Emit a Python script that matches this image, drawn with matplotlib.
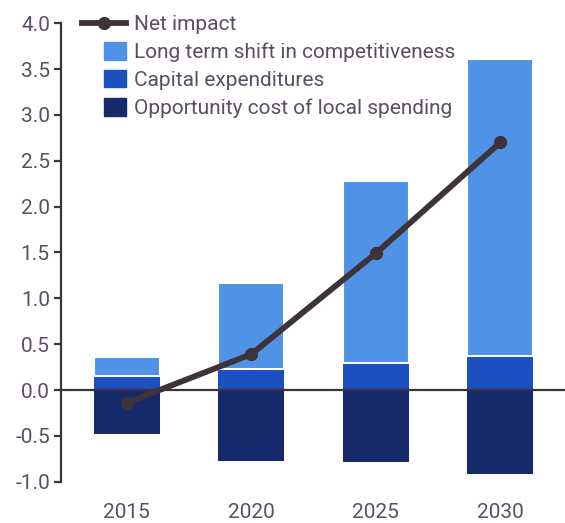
import matplotlib
matplotlib.use('Agg')
import matplotlib.pyplot as plt
from matplotlib.patches import Patch, Rectangle
from matplotlib.lines import Line2D
from matplotlib.legend_handler import HandlerPatch

# Contributions by year (segment heights)
years = ['2015', '2020', '2025', '2030']
capex = [0.15, 0.23, 0.29, 0.37]
shift = [0.21, 0.94, 1.99, 3.24]
opportunity = [-0.48, -0.77, -0.79, -0.92]
net_impact = [-0.14, 0.39, 1.49, 2.70]

y_ticks = [-1.0, -0.5, 0.0, 0.5, 1.0, 1.5, 2.0, 2.5, 3.0, 3.5, 4.0]

c_shift = '#4f92e6'
c_capex = '#1c4fc0'
c_opp = '#15296b'
c_line = '#3e3338'
c_text = '#5c4e62'

plt.rcParams['font.family'] = ['Roboto', 'DejaVu Sans']
plt.rcParams['font.size'] = 15

fig = plt.figure(figsize=(5.65, 5.23), dpi=100)
ax = fig.add_axes([61 / 565, 1 - 481.7 / 523, 1 - 61 / 565, 458.4 / 523])

x = list(range(len(years)))
w = 0.53
ax.bar(x, opportunity, width=w, color=c_opp, zorder=2)
ax.bar(x, capex, width=w, color=c_capex, zorder=2)
ax.bar(x, shift, width=w, bottom=capex, color=c_shift,
       edgecolor='white', linewidth=1.5, zorder=2)
ax.axhline(0, color=c_line, linewidth=1.6, zorder=3)
ax.plot(x, net_impact, color=c_line, linewidth=4.2, marker='o',
        markersize=8.5, zorder=4)

ax.set_xlim(-0.528, 3.52)
ax.set_ylim(-1.0, 4.0)
ax.set_yticks(y_ticks)
ax.set_yticklabels([f'{v:.1f}' for v in y_ticks])
ax.set_xticks(x)
ax.set_xticklabels(years)

for side in ['top', 'right', 'bottom']:
    ax.spines[side].set_visible(False)
ax.spines['left'].set_color(c_line)
ax.spines['left'].set_linewidth(1.6)
ax.tick_params(axis='y', colors=c_line, labelcolor=c_text, length=5,
               width=1.6, pad=3)
ax.tick_params(axis='x', length=0, labelcolor=c_text, pad=15)


def square_patch(legend, orig_handle, xdescent, ydescent, width, height, fontsize):
    sq = width * 0.5
    return Rectangle((-xdescent + width - sq, -ydescent - 1), sq, height + 2)


handles = [
    Line2D([], [], color=c_line, linewidth=4.2, marker='o', markersize=8.5),
    Patch(color=c_shift),
    Patch(color=c_capex),
    Patch(color=c_opp),
]
labels = ['Net impact', 'Long term shift in competitiveness',
          'Capital expenditures', 'Opportunity cost of local spending']
leg = fig.legend(handles, labels, loc='upper left',
                 bbox_to_anchor=(82 / 565, 1 - 15 / 523),
                 frameon=False, borderpad=0, borderaxespad=0,
                 handlelength=2.1, handletextpad=0.4, labelspacing=0.42,
                 handler_map={Patch: HandlerPatch(patch_func=square_patch)})
for t in leg.get_texts():
    t.set_color(c_text)

fig.savefig('out.png', dpi=100)
